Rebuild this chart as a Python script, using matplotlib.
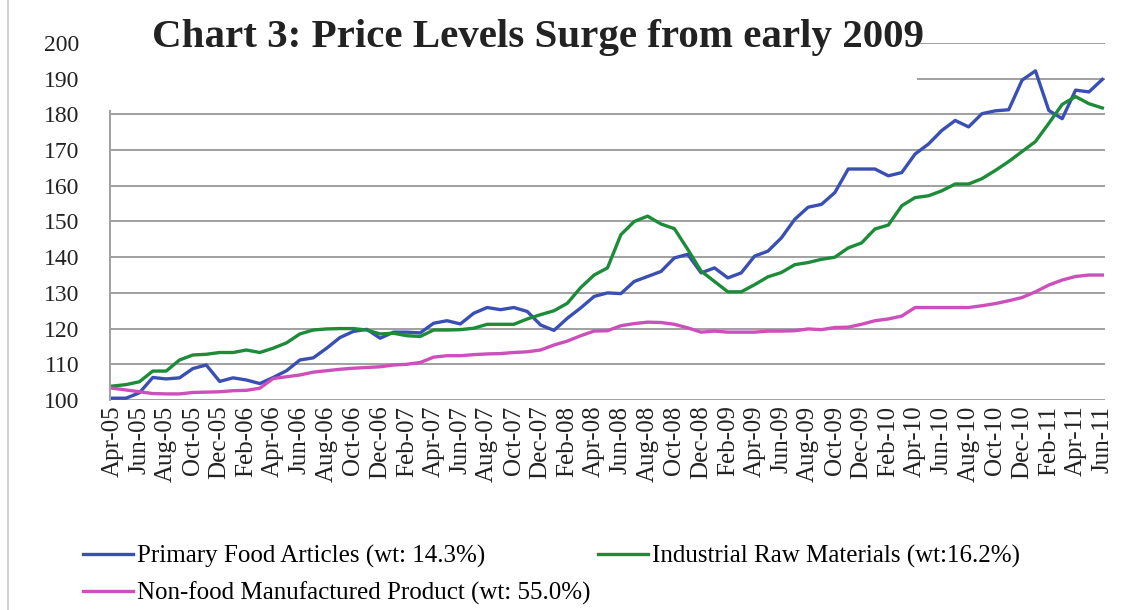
import matplotlib
matplotlib.use("Agg")
import matplotlib.pyplot as plt
from matplotlib.patches import Rectangle
from matplotlib.lines import Line2D

plt.rcParams['font.family'] = ['Liberation Serif', 'DejaVu Serif']

# monthly index values, Apr-05 .. Jun-11
months = ["Apr", "May", "Jun", "Jul", "Aug", "Sep", "Oct", "Nov", "Dec", "Jan", "Feb", "Mar"]
start_year = 5
n_months = 75

primary_food = [
    100.5, 100.5, 102.0, 106.3, 105.9, 106.2, 108.8, 109.8, 105.2, 106.2, 105.6, 104.6,
    106.3, 108.2, 111.2, 111.8, 114.5, 117.5, 119.2, 119.8, 117.3, 119.0, 119.0, 118.8,
    121.5, 122.2, 121.3, 124.3, 125.9, 125.3, 125.9, 124.8, 121.0, 119.5, 122.9, 125.8,
    129.0, 130.0, 129.8, 133.2, 134.6, 136.0, 139.8, 140.8, 135.6, 137.0, 134.2, 135.6,
    140.3, 141.7, 145.4, 150.6, 154.0, 154.8, 158.1, 164.7, 164.7, 164.7, 162.8, 163.7,
    168.9, 171.7, 175.5, 178.3, 176.5, 180.2, 181.0, 181.3, 189.6, 192.2, 181.1, 178.8,
    186.8, 186.3, 189.8,
]
industrial_raw = [
    103.9, 104.3, 105.1, 108.1, 108.1, 111.2, 112.6, 112.8, 113.3, 113.3, 114.0, 113.3,
    114.5, 116.0, 118.5, 119.6, 119.9, 120.0, 120.0, 119.6, 118.5, 118.7, 118.0, 117.8,
    119.6, 119.6, 119.7, 120.1, 121.2, 121.2, 121.2, 122.7, 123.9, 125.0, 127.1, 131.5,
    135.0, 137.0, 146.3, 150.0, 151.5, 149.3, 148.0, 142.2, 136.1, 133.2, 130.3, 130.3,
    132.3, 134.5, 135.7, 137.9, 138.5, 139.4, 140.0, 142.6, 144.0, 147.9, 149.0, 154.4,
    156.7, 157.2, 158.6, 160.5, 160.5, 162.0, 164.3, 166.8, 169.6, 172.4, 177.5, 182.8,
    185.0, 183.0, 181.8,
]
non_food_mfg = [
    103.3, 102.8, 102.3, 101.8, 101.7, 101.7, 102.1, 102.2, 102.3, 102.6, 102.7, 103.3,
    106.0, 106.5, 107.0, 107.8, 108.2, 108.6, 108.9, 109.1, 109.3, 109.8, 110.0, 110.5,
    112.0, 112.4, 112.4, 112.7, 112.9, 113.0, 113.3, 113.5, 114.0, 115.4, 116.5, 118.0,
    119.3, 119.4, 120.8, 121.4, 121.8, 121.7, 121.2, 120.2, 119.0, 119.3, 119.0, 119.0,
    119.0, 119.3, 119.3, 119.4, 119.9, 119.7, 120.3, 120.4, 121.2, 122.2, 122.7, 123.5,
    125.9, 125.9, 125.9, 125.9, 125.9, 126.4, 127.0, 127.8, 128.7, 130.3, 132.2, 133.6,
    134.6, 135.0, 135.0,
]

labels = []
for i in range(n_months):
    m = months[i % 12]
    yr = start_year + (i + 3) // 12
    labels.append(f"{m}-{yr:02d}")

x = list(range(n_months))

fig = plt.figure(figsize=(11.42, 6.10), dpi=100)
ax = fig.add_axes([0.0963, 0.3443, 0.8713, 0.5852])

ax.plot(x, primary_food, color="#3a4fb4", lw=2.4, label="Primary Food Articles (wt: 14.3%)", zorder=3)
ax.plot(x, industrial_raw, color="#1c8c38", lw=2.4, label="Industrial Raw Materials (wt:16.2%)", zorder=3)
ax.plot(x, non_food_mfg, color="#cc4fbc", lw=2.4, label="Non-food Manufactured Product (wt: 55.0%)", zorder=3)

ax.set_ylim(100, 200)
ax.set_xlim(-0.2, 74.2)
ax.set_yticks(range(100, 201, 10))
ax.set_xticks(x[::2])
ax.set_xticklabels(labels[::2], rotation=90, fontsize=18, color="#222222")
ax.tick_params(axis="y", labelsize=17, labelcolor="#222222", length=0, pad=22)
ax.tick_params(axis="x", length=0, pad=4)

ax.grid(axis="y", color="#a0a0a0", lw=1.4)
ax.set_axisbelow(True)
for s in ["top", "right", "bottom"]:
    ax.spines[s].set_visible(False)
ax.spines["left"].set_color("#a0a0a0")
ax.spines["left"].set_linewidth(1.4)

# white box behind the title, as in the original
fig.add_artist(Rectangle((0.088, 0.82), 0.715, 0.18, transform=fig.transFigure,
                         facecolor="white", edgecolor="none", zorder=2))
fig.text(0.471, 0.938, "Chart 3: Price Levels Surge from early 2009", ha="center", va="center",
         fontsize=29.5, fontweight="bold", color="#222222", zorder=4)

h, l = ax.get_legend_handles_labels()
order = [0, 2, 1]
fig.legend([h[i] for i in order], [l[i] for i in order], ncol=2, loc="upper left",
           bbox_to_anchor=(0.053, 0.144), frameon=False, fontsize=18,
           handlelength=2.0, handletextpad=0.16, columnspacing=0.3, labelspacing=0.55)

# faint frame of the original image
fig.add_artist(Line2D([0.007, 0.007], [0, 1], transform=fig.transFigure, color="#c8c8c8", lw=1.2))

fig.savefig("out.png", dpi=100)
